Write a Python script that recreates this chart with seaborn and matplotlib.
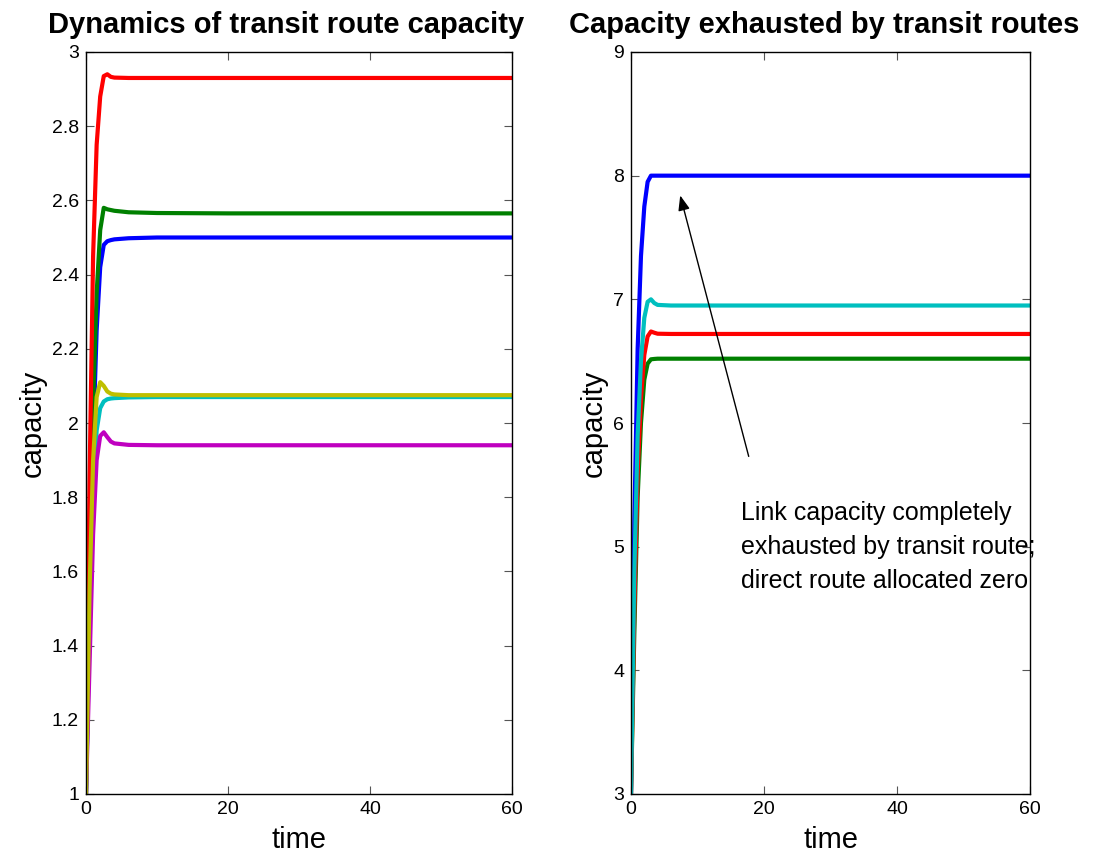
import numpy as np
import pandas as pd
import seaborn as sns
import matplotlib
matplotlib.use("Agg")
import matplotlib.pyplot as plt

# ---- data: transit route capacity over time (left panel) ----
t_left = [0, 0.5, 1.0, 1.5, 2.0, 2.5, 3.0, 3.5, 4.0, 6.0, 10.0, 20.0, 60.0]
cap_blue = [1.0, 1.50, 1.95, 2.25, 2.42, 2.48, 2.49, 2.493, 2.495, 2.498, 2.50, 2.50, 2.50]
cap_green = [1.0, 1.60, 2.05, 2.35, 2.52, 2.58, 2.576, 2.574, 2.572, 2.568, 2.566, 2.565, 2.565]
cap_red = [1.0, 1.85, 2.45, 2.75, 2.88, 2.935, 2.94, 2.933, 2.931, 2.93, 2.93, 2.93, 2.93]
cap_cyan = [1.0, 1.45, 1.80, 1.98, 2.04, 2.058, 2.064, 2.066, 2.067, 2.069, 2.07, 2.07, 2.07]
cap_magenta = [1.0, 1.35, 1.70, 1.90, 1.965, 1.975, 1.962, 1.95, 1.945, 1.941, 1.94, 1.94, 1.94]
cap_yellow = [1.0, 1.55, 1.90, 2.07, 2.11, 2.10, 2.085, 2.079, 2.077, 2.075, 2.075, 2.075, 2.075]

# ---- data: capacity exhausted by transit routes (right panel) ----
t_right = [0, 0.5, 1.0, 1.5, 2.0, 2.5, 3.0, 3.5, 4.0, 6.0, 10.0, 20.0, 60.0]
exh_blue = [3.0, 5.2, 6.6, 7.35, 7.75, 7.95, 8.0, 8.0, 8.0, 8.0, 8.0, 8.0, 8.0]
exh_green = [3.0, 4.3, 5.4, 6.0, 6.35, 6.48, 6.515, 6.518, 6.52, 6.52, 6.52, 6.52, 6.52]
exh_red = [3.0, 4.5, 5.6, 6.2, 6.55, 6.70, 6.74, 6.73, 6.722, 6.72, 6.72, 6.72, 6.72]
exh_cyan = [3.0, 4.8, 5.9, 6.5, 6.85, 6.98, 7.0, 6.97, 6.955, 6.95, 6.95, 6.95, 6.95]

left_ticks_y = [1.0, 1.2, 1.4, 1.6, 1.8, 2.0, 2.2, 2.4, 2.6, 2.8, 3.0]
left_ticklabels_y = ["1", "1.2", "1.4", "1.6", "1.8", "2", "2.2", "2.4", "2.6", "2.8", "3"]
right_ticks_y = [3, 4, 5, 6, 7, 8, 9]
x_ticks = [0, 20, 40, 60]

MB = (0, 0, 1)
MG = (0, 0.5, 0)
MR = (1, 0, 0)
MC = (0, 0.75, 0.75)
MM = (0.75, 0, 0.75)
MY = (0.75, 0.75, 0)

sns.set_style("ticks")
plt.rcParams["font.family"] = ["Liberation Sans", "DejaVu Sans"]
plt.rcParams["axes.linewidth"] = 1.0
plt.rcParams["text.color"] = "black"
plt.rcParams["axes.labelcolor"] = "black"

fig = plt.figure(figsize=(10.94, 8.56), dpi=100)
ax1 = fig.add_axes([86 / 1094, 1 - 794 / 856, (512 - 86) / 1094, (794 - 52) / 856])
ax2 = fig.add_axes([631 / 1094, 1 - 794 / 856, (1030 - 631) / 1094, (794 - 52) / 856])

left_series = [(cap_blue, MB), (cap_green, MG), (cap_red, MR),
               (cap_cyan, MC), (cap_magenta, MM), (cap_yellow, MY)]
for vals, col in left_series:
    df = pd.DataFrame({"time": t_left, "capacity": vals})
    sns.lineplot(data=df, x="time", y="capacity", color=col, linewidth=3,
                 ax=ax1, estimator=None, sort=False)

right_series = [(exh_blue, MB), (exh_green, MG), (exh_red, MR), (exh_cyan, MC)]
for vals, col in right_series:
    df = pd.DataFrame({"time": t_right, "capacity": vals})
    sns.lineplot(data=df, x="time", y="capacity", color=col, linewidth=3,
                 ax=ax2, estimator=None, sort=False)

for ax in (ax1, ax2):
    ax.set_xlim(0, 60)
    ax.set_xticks(x_ticks)
    ax.set_xticklabels([str(v) for v in x_ticks])
    ax.tick_params(direction="in", length=6, width=0.8, color="#555555",
                   labelcolor="black", top=True, right=True, labelsize=14, pad=5)
    for sp in ax.spines.values():
        sp.set_visible(True)
        sp.set_color("black")
    ax.set_xlabel("time", fontsize=21, labelpad=6)
    ax.set_ylabel("capacity", fontsize=21, labelpad=4)

ax1.set_ylim(1, 3)
ax1.set_yticks(left_ticks_y)
ax1.set_yticklabels(left_ticklabels_y)
ax1.set_title("Dynamics of transit route capacity", fontsize=21,
              fontweight="bold", pad=14, x=0.47)

ax2.set_ylim(3, 9)
ax2.set_yticks(right_ticks_y)
ax2.set_yticklabels([str(v) for v in right_ticks_y])
ax2.set_title("Capacity exhausted by transit routes", fontsize=21,
              fontweight="bold", pad=14, x=0.485)

ax2.annotate("", xy=(7.4, 7.84), xytext=(17.7, 5.73),
             arrowprops=dict(arrowstyle="-|>,head_length=0.9,head_width=0.35",
                             color="black", lw=1.0, shrinkA=0, shrinkB=0))
ax2.text(16.5, 5.37,
         "Link capacity completely\nexhausted by transit route;\ndirect route allocated zero",
         fontsize=18, va="top", ha="left", linespacing=1.52,
         clip_on=False, zorder=2)

fig.savefig("out.png", dpi=100)
